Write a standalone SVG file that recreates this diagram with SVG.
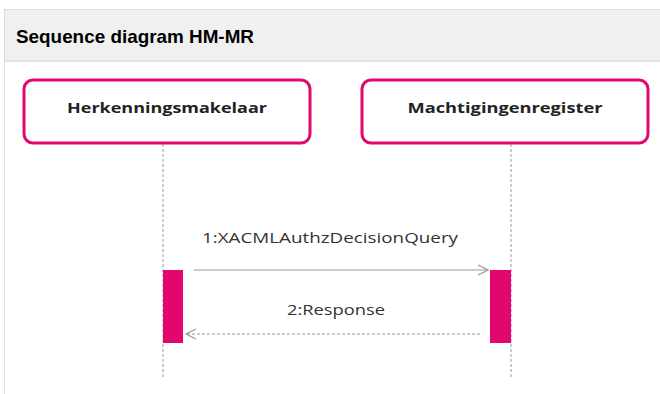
<svg xmlns="http://www.w3.org/2000/svg" width="660" height="394" viewBox="0 0 660 394">
<defs>
<style>
.node{fill:#fff;stroke:#e2066f;stroke-width:3}
.ntext{font-family:"Open Sans","DejaVu Sans",sans-serif;font-weight:bold;font-size:13.5px;fill:#222;text-anchor:middle}
.life{stroke:#aaa;stroke-width:1.2;stroke-dasharray:3 2;fill:none}
.act{fill:#e2066f}
.msg{stroke:#999;stroke-width:1.2;fill:none}
.ltext{font-family:"Open Sans","DejaVu Sans",sans-serif;font-size:14px;fill:#333;text-anchor:middle}
</style>
<marker id="open" markerWidth="12" markerHeight="12" refX="11" refY="6" orient="auto" markerUnits="userSpaceOnUse">
<path d="M1,1 L11,6 L1,11" fill="none" stroke="#999" stroke-width="1.2"/>
</marker>
</defs>
<rect x="0" y="0" width="660" height="394" fill="#fff"/>
<rect x="4.5" y="9.5" width="660" height="400" fill="#fff" stroke="#ddd" stroke-width="1"/>
<rect x="5" y="10" width="655" height="51" fill="#f0f0f0"/>
<line x1="5" y1="61" x2="660" y2="61" stroke="#ddd" stroke-width="1.5"/>
<text x="16" y="43" font-family="Liberation Sans, Arial, sans-serif" font-weight="bold" font-size="18.5" fill="#000" textLength="238" lengthAdjust="spacingAndGlyphs">Sequence diagram HM-MR</text>
<g id="lifelines">
<line class="life" x1="163" y1="144" x2="163" y2="377"/>
<line class="life" x1="511" y1="144" x2="511" y2="377"/>
</g>
<g id="node-hm">
<rect class="node" x="24" y="80" width="286" height="63" rx="9"/>
<text class="ntext" x="167" y="113" textLength="200" lengthAdjust="spacingAndGlyphs">Herkenningsmakelaar</text>
</g>
<g id="node-mr">
<rect class="node" x="362" y="80" width="286" height="63" rx="9"/>
<text class="ntext" x="505" y="113" textLength="195" lengthAdjust="spacingAndGlyphs">Machtigingenregister</text>
</g>
<g id="activations">
<rect class="act" x="163" y="270" width="20" height="73"/>
<rect class="act" x="490" y="270" width="21" height="73"/>
</g>
<g id="connectors">
<line class="msg" x1="194" y1="270" x2="488" y2="270" marker-end="url(#open)"/>
<text class="ltext" x="330" y="243" textLength="256" lengthAdjust="spacingAndGlyphs">1:XACMLAuthzDecisionQuery</text>
<line class="msg" x1="480" y1="334" x2="186" y2="334" stroke-dasharray="3 2" marker-end="url(#open)"/>
<text class="ltext" x="336" y="315" textLength="98" lengthAdjust="spacingAndGlyphs">2:Response</text>
</g>
</svg>
